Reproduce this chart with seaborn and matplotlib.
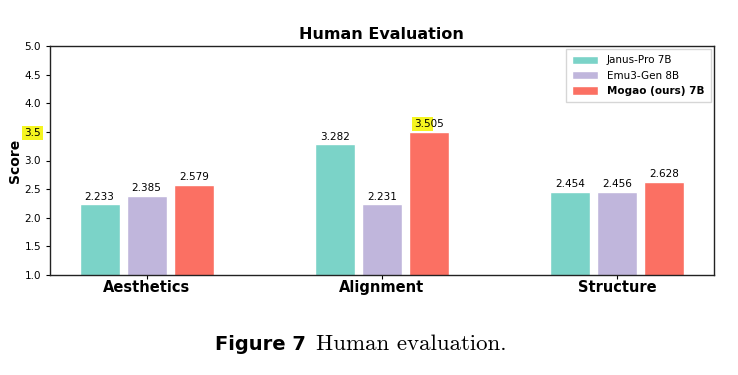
import pandas as pd
import matplotlib
matplotlib.use("Agg")
import matplotlib.pyplot as plt
import seaborn as sns
from matplotlib.ticker import FormatStrFormatter

# values
categories = ["Aesthetics", "Alignment", "Structure"]
models = ["Janus-Pro 7B", "Emu3-Gen 8B", "Mogao (ours) 7B"]
janus_pro = [2.233, 3.282, 2.454]
emu3_gen = [2.385, 2.231, 2.456]
mogao = [2.579, 3.505, 2.628]
colors = ["#7BD3C8", "#C0B6DC", "#FB7063"]

df = pd.DataFrame({
    "category": categories * 3,
    "model": [models[0]] * 3 + [models[1]] * 3 + [models[2]] * 3,
    "score": janus_pro + emu3_gen + mogao,
})

sns.set_style("white")
plt.rcParams["font.family"] = ["DejaVu Sans"]
plt.rcParams["text.color"] = "black"
plt.rcParams["axes.labelcolor"] = "black"
plt.rcParams["xtick.color"] = "black"
plt.rcParams["ytick.color"] = "black"

fig = plt.figure(figsize=(7.38, 3.75), dpi=100)
ax = fig.add_axes([0.068, 0.267, 0.899, 0.61])

sns.barplot(data=df, x="category", y="score", hue="model", order=categories,
            hue_order=models, palette=dict(zip(models, colors)),
            width=0.6, gap=0.15, saturation=1, ax=ax)

for cont in ax.containers:
    ax.bar_label(cont, fmt="%.3f", padding=2, fontsize=7.5, color="black")

ax.set_ylim(1.0, 5.0)
ax.set_xlim(-0.41, 2.41)
ax.set_yticks([1.0, 1.5, 2.0, 2.5, 3.0, 3.5, 4.0, 4.5, 5.0])
ax.yaxis.set_major_formatter(FormatStrFormatter("%.1f"))
ax.tick_params(axis="y", labelsize=7.5, length=3, left=True, colors="black")
ax.tick_params(axis="x", length=3, bottom=True, pad=1, colors="black")
for lbl in ax.get_xticklabels():
    lbl.set_fontweight("bold")
    lbl.set_fontsize(10.5)
ax.set_xlabel("")
ax.set_ylabel("Score", fontsize=10, fontweight="bold", labelpad=2)
ax.set_title("Human Evaluation", fontsize=11.5, fontweight="bold", pad=5,
             color="black")
for s in ax.spines.values():
    s.set_color("#222222")
    s.set_linewidth(1.0)

leg = ax.legend(loc="upper right", fontsize=7.5, frameon=True, fancybox=False,
                edgecolor="#cccccc", handlelength=2.5, handleheight=0.9,
                borderpad=0.6, borderaxespad=0.3)
for t in leg.get_texts():
    t.set_color("black")
leg.get_texts()[2].set_fontweight("bold")

# yellow search highlights visible in the source
for lbl in ax.get_yticklabels():
    if lbl.get_text() == "3.5":
        lbl.set_bbox(dict(facecolor="#f5f520", edgecolor="none", pad=1.5))

fig.canvas.draw()
renderer = fig.canvas.get_renderer()
for t in ax.texts:
    if t.get_text() == "3.505":
        bb = t.get_window_extent(renderer)
        x0 = ax.transData.inverted().transform((bb.x0, bb.y0))
        h = ax.text(x0[0], x0[1], "3.5", fontsize=7.5, color="none",
                    ha="left", va="bottom", zorder=0)
        h.set_bbox(dict(facecolor="#f5f520", edgecolor="none", pad=1.5))

fig.text(0.292, 0.067, "Figure 7", fontsize=14, fontweight="bold",
         family="DejaVu Sans", va="baseline")
fig.text(0.428, 0.067, "Human evaluation.", fontsize=16.5, family="cmr10",
         va="baseline")

fig.savefig("out.png", dpi=100)
